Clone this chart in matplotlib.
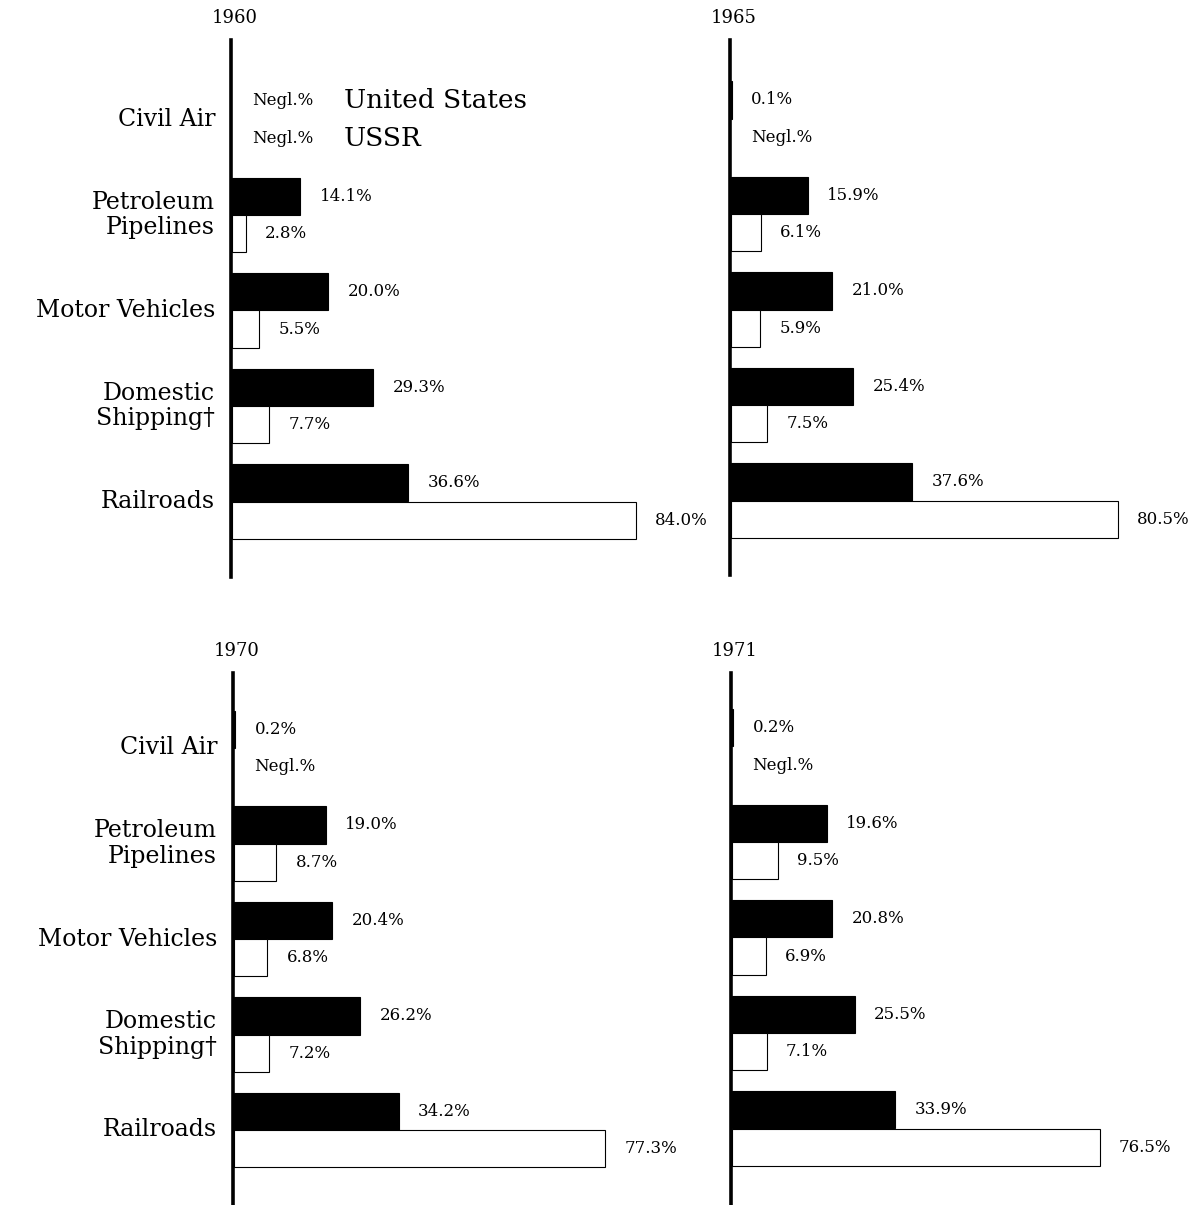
import matplotlib
matplotlib.use("Agg")
import matplotlib.pyplot as plt

categories = ["Civil Air", "Petroleum\nPipelines", "Motor Vehicles", "Domestic\nShipping\u2020", "Railroads"]
years = ["1960", "1965", "1970", "1971"]
# None = negligible
us_1960 = [None, 14.1, 20.0, 29.3, 36.6]
ussr_1960 = [None, 2.8, 5.5, 7.7, 84.0]
us_1965 = [0.1, 15.9, 21.0, 25.4, 37.6]
ussr_1965 = [None, 6.1, 5.9, 7.5, 80.5]
us_1970 = [0.2, 19.0, 20.4, 26.2, 34.2]
ussr_1970 = [None, 8.7, 6.8, 7.2, 77.3]
us_1971 = [0.2, 19.6, 20.8, 25.5, 33.9]
ussr_1971 = [None, 9.5, 6.9, 7.1, 76.5]

series = [(us_1960, ussr_1960), (us_1965, ussr_1965), (us_1970, ussr_1970), (us_1971, ussr_1971)]

plt.rcParams['font.family'] = ['DejaVu Serif']
W, H = 1196, 1205
fig = plt.figure(figsize=(W / 100, H / 100), dpi=100)

# panel geometry in pixels: left, top, bottom, first-group-center
panels = [(231, 40, 577, 119.5), (730, 40, 575, 118.5),
          (233, 673, 1205, 748), (731, 673, 1205, 746.5)]
step = 95.5
px_per_pct = 4.8
ax_w = 440
bar_h = 0.39

for i, ((left, top, bottom, c0), (us, ussr), yr) in enumerate(zip(panels, series, years)):
    ax = fig.add_axes([left / W, (H - bottom) / H, ax_w / W, (bottom - top) / H])
    ax.set_xlim(0, ax_w / px_per_pct)
    off = (c0 - top) / step
    ax.set_ylim((bottom - top) / step - off, -off)
    for j in range(len(categories)):
        for k, (vals, face) in enumerate([(us, 'black'), (ussr, 'white')]):
            v = vals[j]
            y = j - bar_h / 2 + k * bar_h
            if v is not None:
                ax.barh(y, v, height=bar_h, left=0.3, color=face,
                        edgecolor='black', linewidth=0.8)
                txt = f"{v:.1f}%"
                xv = v
            else:
                txt = "Negl.%"
                xv = 0
            ax.annotate(txt, (xv, y), xytext=(15, 0), textcoords='offset points',
                        ha='left', va='center', fontsize=12)
    if i == 0:
        ax.text(23.5, -bar_h / 2, "United States", ha='left', va='center', fontsize=19)
        ax.text(23.5, bar_h / 2, "USSR", ha='left', va='center', fontsize=19)
    if i in (0, 2):
        for j, cat in enumerate(categories):
            ax.text(-3.3, j, cat, ha='right', va='center', fontsize=17,
                    linespacing=1.15)
    for s in ['top', 'right', 'bottom']:
        ax.spines[s].set_visible(False)
    ax.spines['left'].set_linewidth(2.6)
    ax.set_xticks([])
    ax.set_yticks([])
    ax.patch.set_alpha(0)
    fig.text((left + 4) / W, 1 - (top - 22) / H, yr, ha='center', va='center', fontsize=13)

fig.savefig("out.png", dpi=100)
